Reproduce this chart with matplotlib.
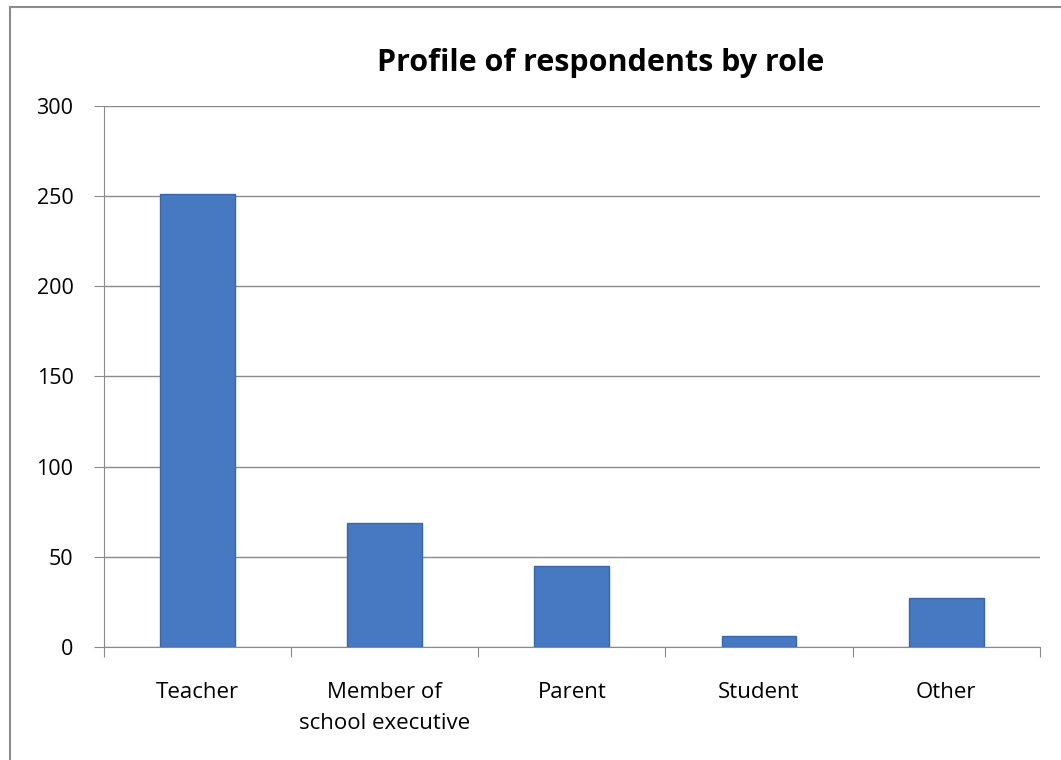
import matplotlib
matplotlib.use("Agg")
import matplotlib.pyplot as plt
from matplotlib.patches import Rectangle
import numpy as np

roles = ["Teacher", "Member of\nschool executive", "Parent", "Student", "Other"]
counts = [251, 69, 45, 6, 27]
y_ticks = [0, 50, 100, 150, 200, 250, 300]

plt.rcParams["font.family"] = ["Open Sans", "DejaVu Sans"]

fig = plt.figure(figsize=(10.61, 7.60), dpi=100)
ax = fig.add_axes([0.098, 0.1487, 0.882, 0.712])

# outer chart frame
fig.patches.append(Rectangle((10 / 1061, -0.05), 1.2, 1.05 - 7 / 760,
                             transform=fig.transFigure, fill=False,
                             edgecolor="#8c8c8c", linewidth=1.5))

x = np.arange(len(roles))
ax.bar(x, counts, width=0.4, color="#4679c2", edgecolor="#3a66ab",
       linewidth=1.0, zorder=3)

ax.set_xlim(-0.5, len(roles) - 0.5)
ax.set_ylim(0, 300)
ax.set_yticks(y_ticks)
ax.set_yticklabels([str(v) for v in y_ticks], fontsize=15.5)
ax.yaxis.grid(True, color="#8a8a8a", linewidth=1.0, zorder=0)

# category labels centred under bars, tick marks between categories
ax.set_xticks(np.arange(-0.5, len(roles), 1.0))
ax.set_xticklabels([])
ax.set_xticks(x, minor=True)
ax.set_xticklabels(roles, minor=True, fontsize=16, linespacing=1.65)
ax.tick_params(axis="x", which="minor", length=0, pad=25)
ax.tick_params(axis="x", which="major", length=7, color="#8a8a8a", direction="out")
ax.tick_params(axis="y", length=7, color="#8a8a8a", direction="out", pad=15)

for side in ["top", "right"]:
    ax.spines[side].set_visible(False)
ax.spines["left"].set_color("#8a8a8a")
ax.spines["bottom"].set_color("#8a8a8a")

fig.text(0.566, 0.917, "Profile of respondents by role", ha="center", va="center",
         fontsize=22, fontweight="bold")

fig.savefig("out.png", dpi=100)
